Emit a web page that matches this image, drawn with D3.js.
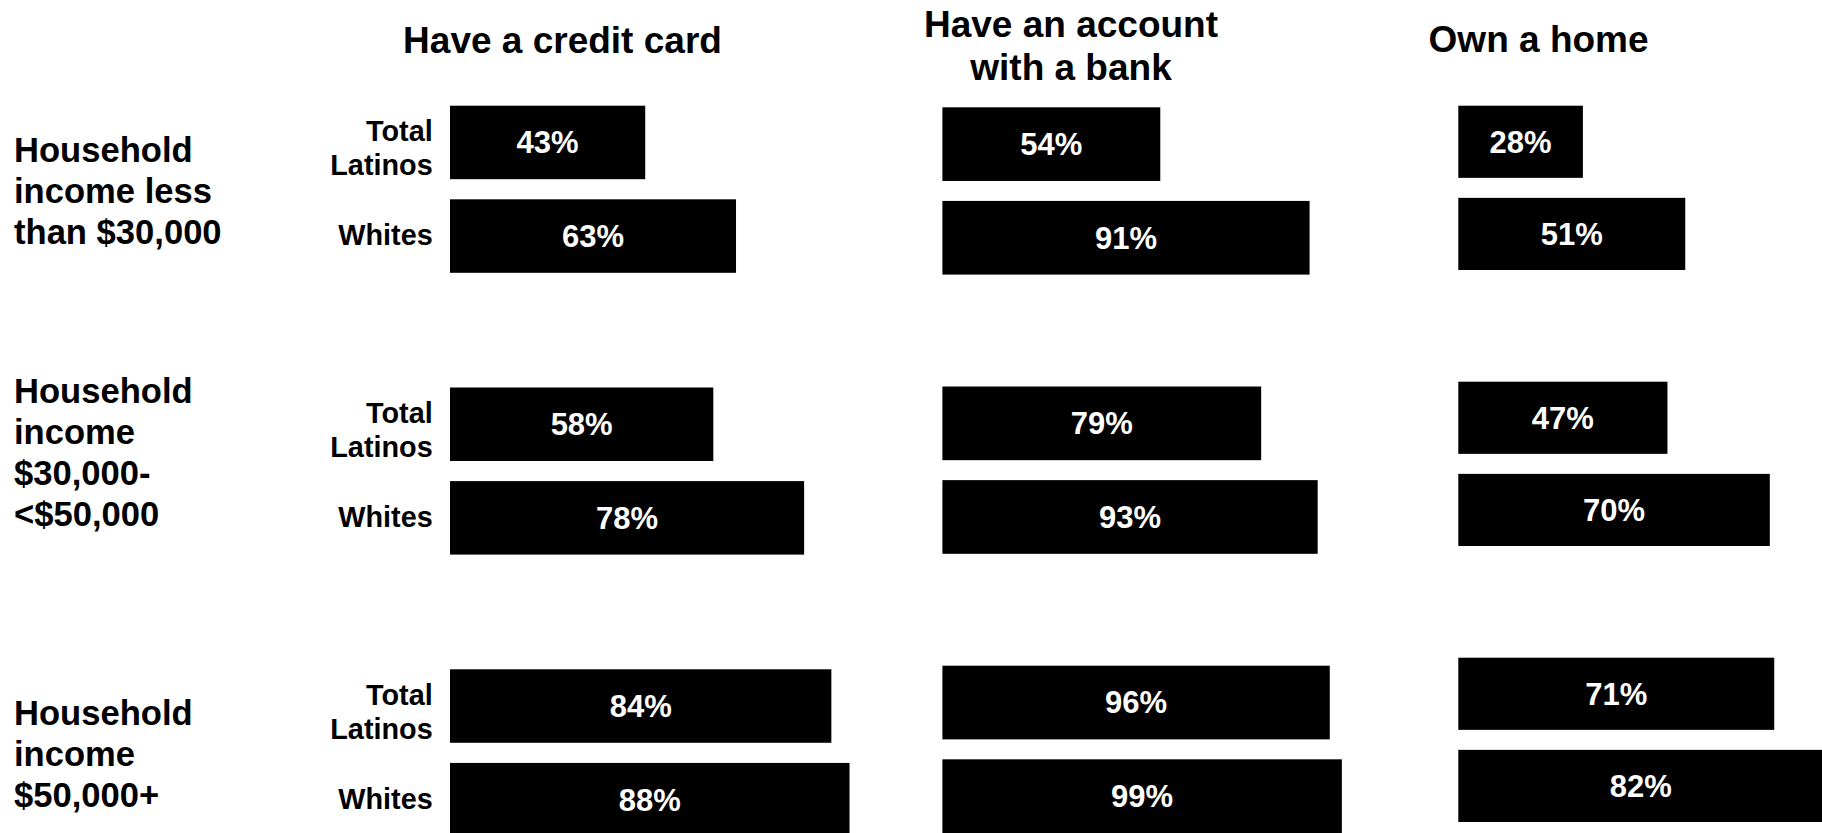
<!DOCTYPE html>
<html>
<head>
<meta charset="utf-8">
<script src="https://cdn.jsdelivr.net/npm/d3@7"></script>
<style>
  html, body { margin: 0; padding: 0; background: #ffffff; overflow: hidden; }
  svg { display: block; }
  text { font-family: "Liberation Sans", Arial, Helvetica, sans-serif; font-weight: bold; }
</style>
</head>
<body>
<script>
// ---------- data ----------
const measureTitles = [["Have a credit card"], ["Have an account", "with a bank"], ["Own a home"]];
const incomeGroups = [
  ["Household", "income less", "than $30,000"],
  ["Household", "income", "$30,000-", "<$50,000"],
  ["Household", "income", "$50,000+"]
];
const populations = ["Total Latinos", "Whites"];
const populationLabels = [["Total", "Latinos"], ["Whites"]];
// values[incomeGroup][population]
const creditCard  = [[43, 63], [58, 78], [84, 88]];
const bankAccount = [[54, 91], [79, 93], [96, 99]];
const ownHome     = [[28, 51], [47, 70], [71, 82]];
const valueLabels = [
  [["43%", "63%"], ["58%", "78%"], ["84%", "88%"]],
  [["54%", "91%"], ["79%", "93%"], ["96%", "99%"]],
  [["28%", "51%"], ["47%", "70%"], ["71%", "82%"]]
];
const seriesValues = [creditCard, bankAccount, ownHome];

// ---------- layout ----------
const W = 1822, H = 833;
const panels = [
  { x0: 450.0,  x100: 904.0,  top: 105.7, lastTop: 669.3, span: 167.1, pad: 0.215, titleX: 562.5,  titleY: 53.3 },
  { x0: 942.4,  x100: 1345.9, top: 107.3, lastTop: 665.7, span: 167.3, pad: 0.213, titleX: 1071.0, titleY: 36.7 },
  { x0: 1458.3, x100: 1903.3, top: 105.7, lastTop: 657.7, span: 164.3, pad: 0.217, titleX: 1538.6, titleY: 51.7 }
];
const titleSize = 37, titleLine = 43.3;
const valueSize = 31, popSize = 28.8, groupSize = 34.6, groupLine = 41;
const popLabelRight = 432.7, groupLabelLeft = 14;

const svg = d3.select("body").append("svg")
  .attr("width", W).attr("height", H)
  .attr("viewBox", `0 0 ${W} ${H}`);

const rowIdx = d3.range(incomeGroups.length);

const scales = panels.map(p => ({
  x: d3.scaleLinear().domain([0, 100]).range([p.x0, p.x100]),
  row: d3.scaleLinear().domain([0, incomeGroups.length - 1]).range([p.top, p.lastTop]),
  pop: d3.scaleBand().domain(populations).range([0, p.span]).paddingInner(p.pad).paddingOuter(0)
}));

panels.forEach((p, i) => {
  const s = scales[i];
  const g = svg.append("g");

  // title
  const t = g.append("text")
    .attr("x", p.titleX).attr("y", p.titleY)
    .attr("text-anchor", "middle")
    .attr("font-size", titleSize)
    .attr("fill", "#000");
  measureTitles[i].forEach((line, k) => {
    t.append("tspan").attr("x", p.titleX).attr("y", p.titleY + k * titleLine).text(line);
  });

  const cells = [];
  rowIdx.forEach(r => populations.forEach((pop, j) => {
    cells.push({ r, pop, v: seriesValues[i][r][j], label: valueLabels[i][r][j] });
  }));

  g.selectAll("rect.bar").data(cells).join("rect")
    .attr("class", "bar")
    .attr("x", s.x(0))
    .attr("y", d => s.row(d.r) + s.pop(d.pop))
    .attr("width", d => s.x(d.v) - s.x(0))
    .attr("height", s.pop.bandwidth())
    .attr("fill", "#000");

  g.selectAll("text.val").data(cells).join("text")
    .attr("class", "val")
    .attr("x", d => (s.x(0) + s.x(d.v)) / 2)
    .attr("y", d => s.row(d.r) + s.pop(d.pop) + s.pop.bandwidth() / 2)
    .attr("dy", "0.35em")
    .attr("text-anchor", "middle")
    .attr("font-size", valueSize)
    .attr("fill", "#fff")
    .text(d => d.label);
});

// population labels (aligned to first panel rows)
const s0 = scales[0];
rowIdx.forEach(r => {
  populations.forEach((pop, j) => {
    const c = s0.row(r) + s0.pop(pop) + s0.pop.bandwidth() / 2;
    const lines = populationLabels[j];
    const first = lines.length > 1 ? c - 1 : c + 9;
    const t = svg.append("text")
      .attr("text-anchor", "end")
      .attr("font-size", popSize)
      .attr("fill", "#000");
    lines.forEach((line, k) => {
      t.append("tspan").attr("x", popLabelRight).attr("y", first + k * 34).text(line);
    });
  });

  // income group labels (bottom-anchored to the row block)
  const lines = incomeGroups[r];
  const last = s0.row(r) + panels[0].span - 29;
  const firstBase = last - (lines.length - 1) * groupLine;
  const gt = svg.append("text")
    .attr("text-anchor", "start")
    .attr("font-size", groupSize)
    .attr("fill", "#000");
  lines.forEach((line, k) => {
    gt.append("tspan").attr("x", groupLabelLeft).attr("y", firstBase + k * groupLine).text(line);
  });
});
</script>
</body>
</html>
